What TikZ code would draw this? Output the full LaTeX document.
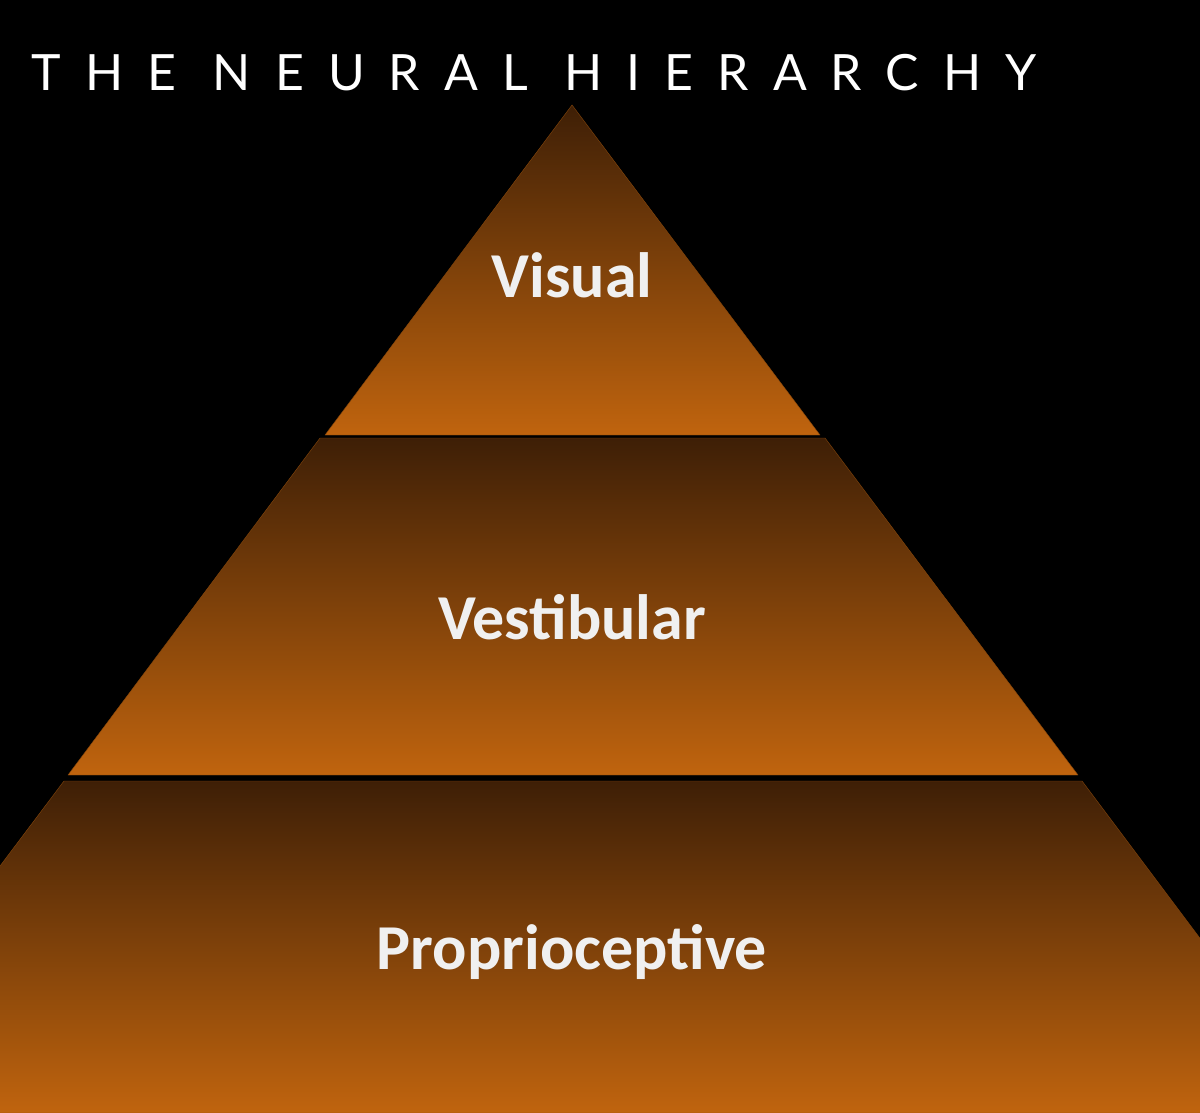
\documentclass[tikz,border=0pt]{standalone}
\usepackage{fontspec}
\setmainfont{Carlito}
\newfontfamily\titlefont[LetterSpace=48]{Lato}
\begin{document}
\begin{tikzpicture}[x=1pt,y=-1pt,
  lbl/.style={text=white!88!gray, font=\fontsize{64}{70}\selectfont\bfseries}]
\fill[black] (0,0) rectangle (1200,1113);
\useasboundingbox (0,0) rectangle (1200,1113);
\definecolor{dk}{HTML}{3E1F06}
\definecolor{or}{HTML}{C0640E}
\begin{scope}
\clip (0,0) rectangle (1200,1113);
\shade[top color=dk, bottom color=or, draw=or!70!black] (572,105) -- (820,435) -- (325,435) -- cycle;
\shade[top color=dk, bottom color=or, draw=or!70!black] (320,438) -- (825,438) -- (1078,775) -- (68,775) -- cycle;
\shade[top color=dk, bottom color=or, draw=or!70!black] (64,781) -- (1082,781) -- (1331,1113) -- (-186,1113) -- cycle;
\end{scope}
\node[lbl] (vis) at (572,275) {Visual};
\node[lbl] (ves) at (572,617) {Vestibular};
\node[lbl] (pro) at (572,952) {Proprioceptive};
\node[text=white, font=\titlefont\fontsize{50}{54}\selectfont, anchor=west] (title) at (28,73) {THE NEURAL HIERARCHY};
\end{tikzpicture}
\end{document}
